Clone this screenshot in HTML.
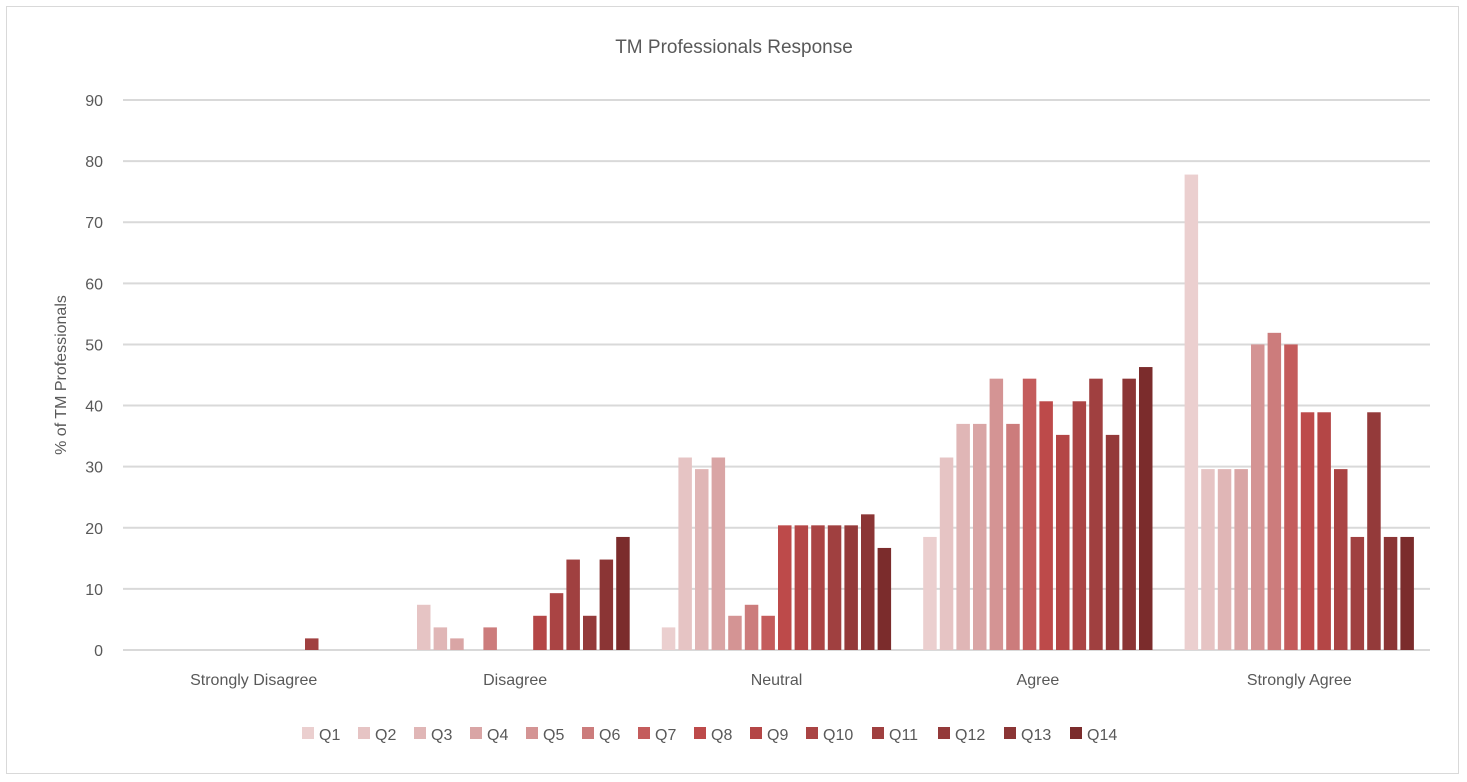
<!DOCTYPE html>
<html><head><meta charset="utf-8"><style>
body{margin:0;background:#fff;font-family:"Liberation Sans",sans-serif}
#frame{position:absolute;left:6px;top:6px;width:1453px;height:768px;border:1px solid #d9d9d9;box-sizing:border-box}
</style></head><body>
<div id="frame"></div>
<svg id="chart" width="1467" height="782" style="position:absolute;left:0;top:0"></svg>
<script>
const categories=["Strongly Disagree","Disagree","Neutral","Agree","Strongly Agree"];
const series=["Q1","Q2","Q3","Q4","Q5","Q6","Q7","Q8","Q9","Q10","Q11","Q12","Q13","Q14"];
const valuesSD=[0,0,0,0,0,0,0,0,0,0,1.9,0,0,0];
const valuesD=[0,7.4,3.7,1.9,0,3.7,0,0,5.6,9.3,14.8,5.6,14.8,18.5];
const valuesN=[3.7,31.5,29.6,31.5,5.6,7.4,5.6,20.4,20.4,20.4,20.4,20.4,22.2,16.7];
const valuesA=[18.5,31.5,37,37,44.4,37,44.4,40.7,35.2,40.7,44.4,35.2,44.4,46.3];
const valuesSA=[77.8,29.6,29.6,29.6,50,51.9,50,38.9,38.9,29.6,18.5,38.9,18.5,18.5];
const yTicks=[0,10,20,30,40,50,60,70,80,90];
const colors=["#ebcfcf","#e6c4c4","#e0b6b6","#d9a5a5","#d49494","#cc7c7c","#c45c5c","#bd4a4a","#b44646","#aa4444","#a04040","#943a3a","#8b3535","#7b2c2c"];
const byCat=[valuesSD,valuesD,valuesN,valuesA,valuesSA];
const NS="http://www.w3.org/2000/svg";
const svg=document.getElementById("chart");
const x0=123,x1=1430,yBase=650,yTop=100,yMax=90;
const y=v=>yBase-(v/yMax)*(yBase-yTop);
const catW=(x1-x0)/categories.length;
const step=16.6,bw=13.5;
function mk(t,a,txt){const e=document.createElementNS(NS,t);for(const k in a)e.setAttribute(k,a[k]);if(txt!=null)e.textContent=txt;svg.appendChild(e);return e;}
let t=mk("text",{x:734,y:53,"text-anchor":"middle","font-size":19,fill:"#595959"},"TM Professionals Response");


yTicks.forEach(v=>{
 const l=mk("line",{x1:x0,x2:x1,y1:y(v),y2:y(v),stroke:"#d9d9d9","stroke-width":2});
 
 
 const tt=mk("text",{x:103,y:y(v)+6,"text-anchor":"end","font-size":16,fill:"#595959"},v);
 
 
});
t=mk("text",{transform:"translate(66,375) rotate(-90)","text-anchor":"middle","font-size":16,fill:"#595959"},"% of TM Professionals");


categories.forEach((c,ci)=>{
 const cx=x0+catW*(ci+0.5);
 const start=cx-step*series.length/2;
 byCat[ci].forEach((v,si)=>{
  if(v<=0)return;
  const r=mk("rect",{x:start+si*step+1.5,y:y(v),width:bw,height:yBase-y(v),fill:colors[si]});
  
  
 });
 const ct=mk("text",{x:cx,y:685,"text-anchor":"middle","font-size":16,fill:"#595959"},c);
 
 
});
let lx=302;
series.forEach((s,si)=>{
 const r=mk("rect",{x:lx,y:727,width:12,height:12,fill:colors[si]});
 
 
 const lt=mk("text",{x:lx+17,y:740,"font-size":16,fill:"#595959"},s);
 
 
 lx+= s.length===2?56:66;
});
</script>
</body></html>
